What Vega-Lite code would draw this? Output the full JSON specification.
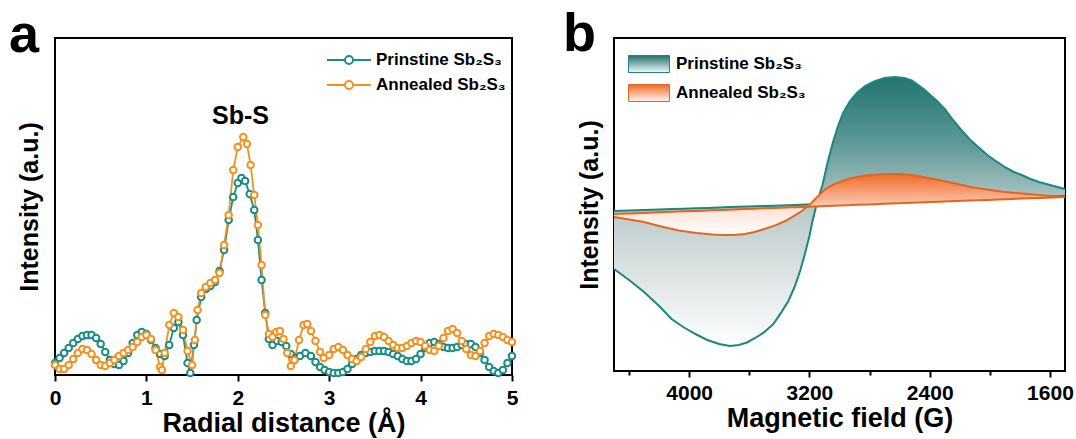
{
  "$schema": "https://vega.github.io/schema/vega-lite/v6.json",
  "padding": {"left": 8, "top": 7, "right": 5, "bottom": 5},
  "spacing": 41,
  "config": {
    "font": "Liberation Sans",
    "view": {"stroke": "black", "strokeWidth": 2},
    "axis": {"labelFontWeight": "bold", "labelColor": "black", "titleColor": "black", "titleFontWeight": "bold", "titleFontSize": 27, "tickColor": "black", "tickWidth": 2, "grid": false, "labelFlush": false, "labelOverlap": false},
    "legend": {"labelColor": "black", "labelFontWeight": "bold", "labelFontSize": 17, "padding": 0}
  },
  "resolve": {"scale": {"color": "independent", "x": "independent", "y": "independent"}, "legend": {"color": "independent"}},
  "datasets": {
    "exafs": [
      {"r":0.00,"h":12,"s":"P"},{"r":0.05,"h":17,"s":"P"},{"r":0.10,"h":22,"s":"P"},{"r":0.15,"h":27,"s":"P"},{"r":0.20,"h":32,"s":"P"},{"r":0.25,"h":36,"s":"P"},{"r":0.30,"h":39,"s":"P"},{"r":0.35,"h":40,"s":"P"},{"r":0.40,"h":40,"s":"P"},{"r":0.45,"h":37,"s":"P"},{"r":0.50,"h":31,"s":"P"},{"r":0.55,"h":23,"s":"P"},{"r":0.60,"h":15,"s":"P"},{"r":0.65,"h":11,"s":"P"},{"r":0.70,"h":10,"s":"P"},{"r":0.75,"h":14,"s":"P"},{"r":0.80,"h":22,"s":"P"},{"r":0.85,"h":32,"s":"P"},{"r":0.90,"h":40,"s":"P"},{"r":0.95,"h":43,"s":"P"},{"r":1.00,"h":41,"s":"P"},{"r":1.05,"h":35,"s":"P"},{"r":1.10,"h":27,"s":"P"},{"r":1.15,"h":21,"s":"P"},{"r":1.20,"h":19,"s":"P"},{"r":1.25,"h":30,"s":"P"},{"r":1.30,"h":47,"s":"P"},{"r":1.35,"h":53,"s":"P"},{"r":1.40,"h":40,"s":"P"},{"r":1.45,"h":12,"s":"P"},{"r":1.48,"h":2,"s":"P"},{"r":1.52,"h":30,"s":"P"},{"r":1.55,"h":55,"s":"P"},{"r":1.60,"h":78,"s":"P"},{"r":1.65,"h":86,"s":"P"},{"r":1.70,"h":89,"s":"P"},{"r":1.75,"h":93,"s":"P"},{"r":1.80,"h":104,"s":"P"},{"r":1.85,"h":125,"s":"P"},{"r":1.90,"h":155,"s":"P"},{"r":1.95,"h":178,"s":"P"},{"r":2.00,"h":192,"s":"P"},{"r":2.04,"h":197,"s":"P"},{"r":2.08,"h":194,"s":"P"},{"r":2.13,"h":181,"s":"P"},{"r":2.18,"h":165,"s":"P"},{"r":2.22,"h":135,"s":"P"},{"r":2.26,"h":95,"s":"P"},{"r":2.30,"h":62,"s":"P"},{"r":2.34,"h":36,"s":"P"},{"r":2.38,"h":30,"s":"P"},{"r":2.43,"h":34,"s":"P"},{"r":2.48,"h":33,"s":"P"},{"r":2.53,"h":29,"s":"P"},{"r":2.58,"h":21,"s":"P"},{"r":2.63,"h":17,"s":"P"},{"r":2.68,"h":19,"s":"P"},{"r":2.74,"h":22,"s":"P"},{"r":2.80,"h":19,"s":"P"},{"r":2.85,"h":13,"s":"P"},{"r":2.90,"h":8,"s":"P"},{"r":2.95,"h":5,"s":"P"},{"r":3.00,"h":3,"s":"P"},{"r":3.05,"h":2,"s":"P"},{"r":3.10,"h":2,"s":"P"},{"r":3.15,"h":3,"s":"P"},{"r":3.20,"h":6,"s":"P"},{"r":3.25,"h":11,"s":"P"},{"r":3.30,"h":16,"s":"P"},{"r":3.35,"h":20,"s":"P"},{"r":3.40,"h":22,"s":"P"},{"r":3.45,"h":23,"s":"P"},{"r":3.50,"h":24,"s":"P"},{"r":3.55,"h":24,"s":"P"},{"r":3.60,"h":24,"s":"P"},{"r":3.65,"h":23,"s":"P"},{"r":3.70,"h":21,"s":"P"},{"r":3.75,"h":19,"s":"P"},{"r":3.80,"h":16,"s":"P"},{"r":3.85,"h":14,"s":"P"},{"r":3.90,"h":14,"s":"P"},{"r":3.95,"h":16,"s":"P"},{"r":4.00,"h":21,"s":"P"},{"r":4.05,"h":27,"s":"P"},{"r":4.10,"h":32,"s":"P"},{"r":4.15,"h":33,"s":"P"},{"r":4.20,"h":31,"s":"P"},{"r":4.25,"h":28,"s":"P"},{"r":4.30,"h":27,"s":"P"},{"r":4.35,"h":27,"s":"P"},{"r":4.40,"h":28,"s":"P"},{"r":4.45,"h":30,"s":"P"},{"r":4.50,"h":31,"s":"P"},{"r":4.55,"h":31,"s":"P"},{"r":4.60,"h":28,"s":"P"},{"r":4.65,"h":22,"s":"P"},{"r":4.70,"h":15,"s":"P"},{"r":4.75,"h":8,"s":"P"},{"r":4.80,"h":4,"s":"P"},{"r":4.85,"h":2,"s":"P"},{"r":4.90,"h":5,"s":"P"},{"r":4.95,"h":12,"s":"P"},{"r":5.00,"h":19,"s":"P"},
      {"r":0.00,"h":10,"s":"A"},{"r":0.05,"h":6,"s":"A"},{"r":0.10,"h":6,"s":"A"},{"r":0.15,"h":10,"s":"A"},{"r":0.20,"h":16,"s":"A"},{"r":0.25,"h":22,"s":"A"},{"r":0.30,"h":26,"s":"A"},{"r":0.35,"h":25,"s":"A"},{"r":0.40,"h":21,"s":"A"},{"r":0.45,"h":15,"s":"A"},{"r":0.50,"h":10,"s":"A"},{"r":0.55,"h":9,"s":"A"},{"r":0.60,"h":12,"s":"A"},{"r":0.65,"h":15,"s":"A"},{"r":0.70,"h":19,"s":"A"},{"r":0.75,"h":22,"s":"A"},{"r":0.80,"h":25,"s":"A"},{"r":0.85,"h":28,"s":"A"},{"r":0.90,"h":33,"s":"A"},{"r":0.95,"h":38,"s":"A"},{"r":1.00,"h":40,"s":"A"},{"r":1.05,"h":36,"s":"A"},{"r":1.10,"h":25,"s":"A"},{"r":1.15,"h":8,"s":"A"},{"r":1.17,"h":5,"s":"A"},{"r":1.20,"h":22,"s":"A"},{"r":1.25,"h":50,"s":"A"},{"r":1.30,"h":62,"s":"A"},{"r":1.35,"h":58,"s":"A"},{"r":1.40,"h":45,"s":"A"},{"r":1.45,"h":24,"s":"A"},{"r":1.50,"h":10,"s":"A"},{"r":1.53,"h":35,"s":"A"},{"r":1.56,"h":65,"s":"A"},{"r":1.60,"h":82,"s":"A"},{"r":1.65,"h":88,"s":"A"},{"r":1.70,"h":92,"s":"A"},{"r":1.75,"h":95,"s":"A"},{"r":1.80,"h":102,"s":"A"},{"r":1.85,"h":130,"s":"A"},{"r":1.90,"h":160,"s":"A"},{"r":1.95,"h":205,"s":"A"},{"r":2.00,"h":228,"s":"A"},{"r":2.06,"h":238,"s":"A"},{"r":2.10,"h":231,"s":"A"},{"r":2.14,"h":210,"s":"A"},{"r":2.18,"h":180,"s":"A"},{"r":2.22,"h":150,"s":"A"},{"r":2.26,"h":110,"s":"A"},{"r":2.30,"h":60,"s":"A"},{"r":2.34,"h":41,"s":"A"},{"r":2.38,"h":38,"s":"A"},{"r":2.42,"h":43,"s":"A"},{"r":2.46,"h":44,"s":"A"},{"r":2.50,"h":36,"s":"A"},{"r":2.54,"h":22,"s":"A"},{"r":2.58,"h":9,"s":"A"},{"r":2.62,"h":15,"s":"A"},{"r":2.67,"h":35,"s":"A"},{"r":2.72,"h":50,"s":"A"},{"r":2.76,"h":51,"s":"A"},{"r":2.80,"h":44,"s":"A"},{"r":2.85,"h":34,"s":"A"},{"r":2.90,"h":23,"s":"A"},{"r":2.94,"h":17,"s":"A"},{"r":3.00,"h":20,"s":"A"},{"r":3.05,"h":26,"s":"A"},{"r":3.10,"h":28,"s":"A"},{"r":3.15,"h":25,"s":"A"},{"r":3.20,"h":20,"s":"A"},{"r":3.25,"h":16,"s":"A"},{"r":3.30,"h":14,"s":"A"},{"r":3.35,"h":18,"s":"A"},{"r":3.40,"h":26,"s":"A"},{"r":3.45,"h":33,"s":"A"},{"r":3.50,"h":39,"s":"A"},{"r":3.55,"h":40,"s":"A"},{"r":3.60,"h":38,"s":"A"},{"r":3.65,"h":34,"s":"A"},{"r":3.70,"h":30,"s":"A"},{"r":3.75,"h":27,"s":"A"},{"r":3.80,"h":27,"s":"A"},{"r":3.85,"h":29,"s":"A"},{"r":3.90,"h":32,"s":"A"},{"r":3.95,"h":34,"s":"A"},{"r":4.00,"h":33,"s":"A"},{"r":4.05,"h":29,"s":"A"},{"r":4.10,"h":25,"s":"A"},{"r":4.15,"h":24,"s":"A"},{"r":4.20,"h":29,"s":"A"},{"r":4.25,"h":37,"s":"A"},{"r":4.30,"h":44,"s":"A"},{"r":4.35,"h":46,"s":"A"},{"r":4.40,"h":42,"s":"A"},{"r":4.45,"h":34,"s":"A"},{"r":4.50,"h":26,"s":"A"},{"r":4.55,"h":20,"s":"A"},{"r":4.60,"h":19,"s":"A"},{"r":4.65,"h":24,"s":"A"},{"r":4.70,"h":32,"s":"A"},{"r":4.75,"h":39,"s":"A"},{"r":4.80,"h":41,"s":"A"},{"r":4.85,"h":40,"s":"A"},{"r":4.90,"h":38,"s":"A"},{"r":4.95,"h":35,"s":"A"},{"r":5.00,"h":33,"s":"A"}
    ],
    "epr": [
      {"G":4500,"h":102,"b":160,"s":"P"},{"G":4400,"h":91,"b":160.5,"s":"P"},{"G":4300,"h":79,"b":161,"s":"P"},{"G":4200,"h":65,"b":161.5,"s":"P"},{"G":4117,"h":52,"b":161.9,"s":"P"},{"G":4040,"h":44,"b":162.3,"s":"P"},{"G":3958,"h":37,"b":162.7,"s":"P"},{"G":3880,"h":31,"b":163.1,"s":"P"},{"G":3800,"h":27,"b":163.5,"s":"P"},{"G":3729,"h":25,"b":163.9,"s":"P"},{"G":3670,"h":26,"b":164.2,"s":"P"},{"G":3616,"h":28.5,"b":164.4,"s":"P"},{"G":3560,"h":33,"b":164.7,"s":"P"},{"G":3503,"h":38.6,"b":165,"s":"P"},{"G":3440,"h":47,"b":165.3,"s":"P"},{"G":3387,"h":58.6,"b":165.6,"s":"P"},{"G":3340,"h":70,"b":165.8,"s":"P"},{"G":3296,"h":85,"b":166,"s":"P"},{"G":3260,"h":101,"b":166.2,"s":"P"},{"G":3227,"h":119,"b":166.4,"s":"P"},{"G":3200,"h":135,"b":166.5,"s":"P"},{"G":3181,"h":149,"b":166.6,"s":"P"},{"G":3160,"h":162,"b":166.7,"s":"P"},{"G":3147,"h":169,"b":166.8,"s":"P"},{"G":3130,"h":178,"b":166.9,"s":"P"},{"G":3113,"h":186,"b":166.9,"s":"P"},{"G":3080,"h":208,"b":167.1,"s":"P"},{"G":3045,"h":228,"b":167.3,"s":"P"},{"G":3010,"h":245,"b":167.5,"s":"P"},{"G":2976,"h":258,"b":167.6,"s":"P"},{"G":2930,"h":270,"b":167.9,"s":"P"},{"G":2885,"h":278,"b":168.1,"s":"P"},{"G":2830,"h":285,"b":168.4,"s":"P"},{"G":2770,"h":289.5,"b":168.7,"s":"P"},{"G":2700,"h":293,"b":169,"s":"P"},{"G":2633,"h":294,"b":169.3,"s":"P"},{"G":2570,"h":293,"b":169.7,"s":"P"},{"G":2519,"h":290.5,"b":169.9,"s":"P"},{"G":2440,"h":282,"b":170.3,"s":"P"},{"G":2359,"h":271,"b":170.7,"s":"P"},{"G":2300,"h":262,"b":171,"s":"P"},{"G":2245,"h":251,"b":171.3,"s":"P"},{"G":2190,"h":241,"b":171.6,"s":"P"},{"G":2130,"h":231,"b":171.9,"s":"P"},{"G":2070,"h":223,"b":172.2,"s":"P"},{"G":2017,"h":216,"b":172.4,"s":"P"},{"G":1960,"h":210,"b":172.7,"s":"P"},{"G":1902,"h":204,"b":173,"s":"P"},{"G":1840,"h":199,"b":173.3,"s":"P"},{"G":1788,"h":196,"b":173.6,"s":"P"},{"G":1730,"h":192,"b":173.9,"s":"P"},{"G":1674,"h":189,"b":174.1,"s":"P"},{"G":1600,"h":186,"b":174.5,"s":"P"},{"G":1500,"h":182,"b":175,"s":"P"},
      {"G":4500,"h":154,"b":157,"s":"A"},{"G":4400,"h":151.5,"b":157.6,"s":"A"},{"G":4300,"h":149,"b":158.1,"s":"A"},{"G":4200,"h":145,"b":158.7,"s":"A"},{"G":4070,"h":140.6,"b":159.4,"s":"A"},{"G":3950,"h":138,"b":160.1,"s":"A"},{"G":3840,"h":136.6,"b":160.7,"s":"A"},{"G":3770,"h":136,"b":161.1,"s":"A"},{"G":3703,"h":136,"b":161.5,"s":"A"},{"G":3630,"h":137,"b":161.9,"s":"A"},{"G":3565,"h":139,"b":162.3,"s":"A"},{"G":3500,"h":142,"b":162.7,"s":"A"},{"G":3428,"h":145.6,"b":163.1,"s":"A"},{"G":3360,"h":150,"b":163.5,"s":"A"},{"G":3296,"h":155.6,"b":163.8,"s":"A"},{"G":3250,"h":160,"b":164.1,"s":"A"},{"G":3204,"h":165.7,"b":164.3,"s":"A"},{"G":3180,"h":169,"b":164.5,"s":"A"},{"G":3158,"h":172.5,"b":164.6,"s":"A"},{"G":3125,"h":177.5,"b":164.8,"s":"A"},{"G":3090,"h":182.5,"b":165,"s":"A"},{"G":3045,"h":186,"b":165.2,"s":"A"},{"G":2999,"h":189,"b":165.5,"s":"A"},{"G":2940,"h":192,"b":165.8,"s":"A"},{"G":2885,"h":194,"b":166.2,"s":"A"},{"G":2800,"h":196,"b":166.6,"s":"A"},{"G":2702,"h":197,"b":167.2,"s":"A"},{"G":2610,"h":197,"b":167.7,"s":"A"},{"G":2519,"h":196,"b":168.2,"s":"A"},{"G":2430,"h":193.5,"b":168.7,"s":"A"},{"G":2336,"h":191,"b":169.3,"s":"A"},{"G":2230,"h":187.5,"b":169.9,"s":"A"},{"G":2130,"h":184,"b":170.4,"s":"A"},{"G":2020,"h":181.5,"b":171.1,"s":"A"},{"G":1902,"h":179,"b":171.7,"s":"A"},{"G":1790,"h":177.5,"b":172.4,"s":"A"},{"G":1674,"h":176,"b":173,"s":"A"},{"G":1580,"h":174.8,"b":173.5,"s":"A"},{"G":1500,"h":174,"b":174,"s":"A"}
    ]
  },
  "hconcat": [
    {
      "title": {"text": "a", "fontSize": 54, "fontWeight": "bold", "anchor": "start", "frame": "group", "dx": -46, "offset": -68, "baseline": "alphabetic", "color": "black"},
      "width": 457,
      "height": 337,
      "layer": [
        {
          "data": {"name": "exafs"},
          "mark": {"type": "line", "strokeWidth": 1.8},
          "encoding": {
            "x": {"field": "r", "type": "quantitative", "scale": {"domain": [0, 5], "nice": false},
                  "axis": {"title": "Radial distance (Å)", "format": "d", "values": [0,0.5,1,1.5,2,2.5,3,3.5,4,4.5,5], "labelExpr": "datum.value % 1 === 0 ? datum.label : ''", "tickSize": {"condition": {"test": "datum.value % 1 === 0", "value": 6}, "value": 4}, "labelFontSize": 21, "labelPadding": 6, "titlePadding": 2, "domain": false}},
            "y": {"field": "h", "type": "quantitative", "scale": {"domain": [0, 337], "nice": false, "zero": false},
                  "axis": {"title": "Intensity (a.u.)", "titleFontSize": 25, "labels": false, "ticks": false, "domain": false, "titlePadding": 13}},
            "color": {"field": "s", "type": "nominal", "scale": {"domain": ["P", "A"], "range": ["#1a8c88", "#f5901e"]},
                      "legend": {"title": null, "orient": "none", "legendX": 285, "legendY": 13, "labelExpr": "datum.value === 'P' ? 'Prinstine Sb₂S₃' : 'Annealed Sb₂S₃'", "symbolType": "M-2.75,0H-0.5A0.5,0.5 0 1,1 0.5,0A0.5,0.5 0 1,1 -0.5,0M0.5,0H2.75", "symbolSize": 256, "symbolStrokeWidth": 2, "symbolFillColor": "white", "rowPadding": 8, "labelOffset": 18}}
          }
        },
        {
          "data": {"name": "exafs"},
          "mark": {"type": "point", "filled": false, "fill": "white", "size": 42, "strokeWidth": 2, "opacity": 1},
          "encoding": {
            "x": {"field": "r", "type": "quantitative"},
            "y": {"field": "h", "type": "quantitative"},
            "color": {"field": "s", "type": "nominal"}
          }
        },
        {
          "data": {"values": [{"r": 2.03, "h": 251, "t": "Sb-S"}]},
          "mark": {"type": "text", "fontSize": 25, "fontWeight": "bold", "baseline": "alphabetic", "color": "black"},
          "encoding": {
            "x": {"field": "r", "type": "quantitative"},
            "y": {"field": "h", "type": "quantitative"},
            "text": {"field": "t"}
          }
        }
      ]
    },
    {
      "title": {"text": "b", "fontSize": 54, "fontWeight": "bold", "anchor": "start", "frame": "group", "dx": -51, "offset": -67, "baseline": "alphabetic", "color": "black"},
      "width": 451,
      "height": 333,
      "data": {"name": "epr"},
      "encoding": {
        "x": {"field": "G", "type": "quantitative", "scale": {"domain": [1500, 4500], "reverse": true, "nice": false, "zero": false},
              "axis": {"title": "Magnetic field (G)", "values": [4400,4000,3600,3200,2800,2400,2000,1600], "labelExpr": "(datum.value / 400) % 2 === 0 ? datum.label : ''", "tickSize": {"condition": {"test": "(datum.value / 400) % 2 === 0", "value": 6}, "value": 4}, "labelFontSize": 21, "labelPadding": 5, "titlePadding": 2, "format": "d", "domain": false}},
        "y": {"field": "h", "type": "quantitative", "scale": {"domain": [0, 333], "nice": false, "zero": false},
              "axis": {"title": "Intensity (a.u.)", "titleFontSize": 25, "labels": false, "ticks": false, "domain": false, "titlePadding": 12}}
      },
      "layer": [
        {
          "transform": [{"filter": "datum.s === 'P'"}],
          "mark": {"type": "area", "color": {"gradient": "linear", "x1": 0, "y1": 0, "x2": 0, "y2": 1, "stops": [{"offset": 0, "color": "#237470"}, {"offset": 0.25, "color": "#5f9997"}, {"offset": 0.47, "color": "#b2c8c8"}, {"offset": 0.55, "color": "#c4d0d0"}, {"offset": 0.8, "color": "#e5eaea"}, {"offset": 1, "color": "#ffffff"}]}},
          "encoding": {"y2": {"field": "b"}}
        },
        {
          "transform": [{"filter": "datum.s === 'P'"}],
          "mark": {"type": "line", "strokeWidth": 2},
          "encoding": {
            "color": {"field": "s", "type": "nominal", "scale": {"domain": ["P", "A"], "range": ["#1c8682", "#e2661e"]},
                      "legend": {"title": null, "orient": "none", "legendX": 26, "legendY": 17, "labelExpr": "datum.value === 'P' ? 'Prinstine Sb₂S₃' : 'Annealed Sb₂S₃'", "symbolType": "M-2.41,-1H2.41V1H-2.41Z", "symbolSize": 289, "symbolStrokeWidth": 1, "rowPadding": 7, "labelOffset": 18,
                                 "encode": {"symbols": {"update": {"fill": {"signal": "datum.value === 'P' ? {gradient: 'linear', x1: 0, y1: 0, x2: 0, y2: 1, stops: [{offset: 0, color: '#1f6f6b'}, {offset: 1, color: '#f4f8f8'}]} : {gradient: 'linear', x1: 0, y1: 0, x2: 0, y2: 1, stops: [{offset: 0, color: '#f26a24'}, {offset: 1, color: '#fff4ee'}]}"}, "stroke": {"value": "#555555"}, "opacity": {"value": 1}, "fillOpacity": {"value": 1}}}}}}
          }
        },
        {
          "transform": [{"filter": "datum.s === 'P'"}],
          "mark": {"type": "line", "strokeWidth": 2, "color": "#1c8682"},
          "encoding": {"y": {"field": "b", "type": "quantitative"}}
        },
        {
          "transform": [{"filter": "datum.s === 'A'"}],
          "mark": {"type": "area", "color": {"gradient": "linear", "x1": 0, "y1": 0, "x2": 0, "y2": 1, "stops": [{"offset": 0, "color": "#f06a28"}, {"offset": 0.5, "color": "#fbc6ad"}, {"offset": 0.57, "color": "#fde3d6"}, {"offset": 1, "color": "#ffffff"}]}},
          "encoding": {"y2": {"field": "b"}}
        },
        {
          "transform": [{"filter": "datum.s === 'A'"}],
          "mark": {"type": "line", "strokeWidth": 2},
          "encoding": {"color": {"field": "s", "type": "nominal"}}
        },
        {
          "transform": [{"filter": "datum.s === 'A'"}],
          "mark": {"type": "line", "strokeWidth": 2, "color": "#e2661e"},
          "encoding": {"y": {"field": "b", "type": "quantitative"}}
        }
      ]
    }
  ]
}
